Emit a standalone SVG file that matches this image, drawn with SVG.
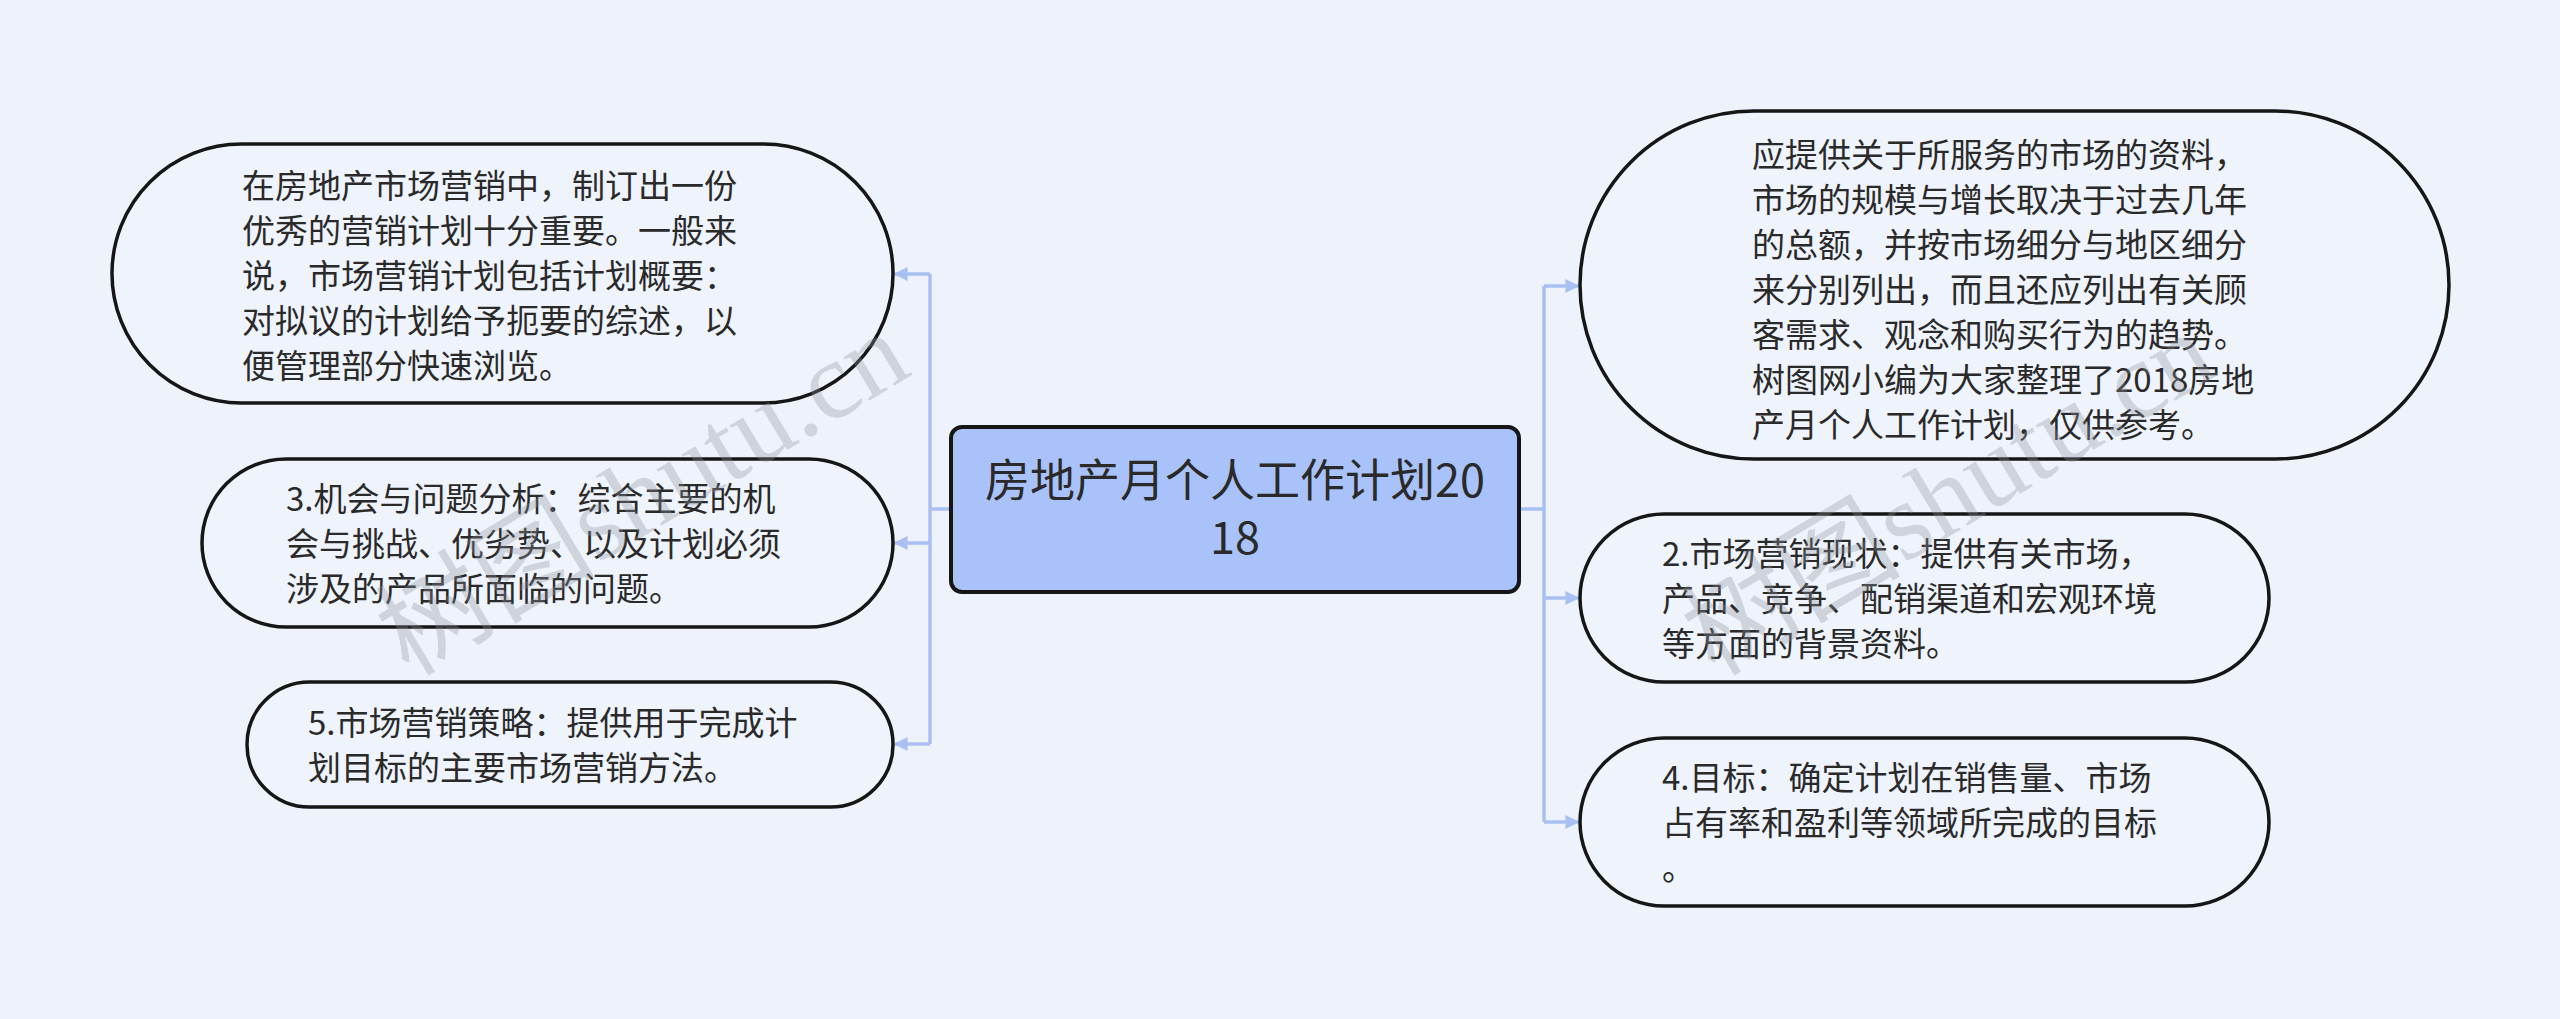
<svg xmlns="http://www.w3.org/2000/svg" width="2560" height="1019" viewBox="0 0 2560 1019">
<defs>
<style>
.bg{fill:#eef3fb}
.node{fill:#eef3fc;stroke:#161616;stroke-width:3.5}
.root{fill:#a9c3fa;stroke:#161616;stroke-width:4}
.t{font-family:"Noto Sans CJK SC","Noto Sans",sans-serif;font-size:33px;fill:#2a2a2a}
.rt{font-family:"Noto Sans CJK SC","Noto Sans",sans-serif;font-size:45px;fill:#2a2a2a;text-anchor:middle}
.edge{fill:none;stroke:#a9c1f2;stroke-width:3.5}
.wm{font-family:"Liberation Serif","Noto Sans CJK SC",serif;font-size:110px;fill:#8c929c;opacity:0.32}
</style>
<marker id="arr" viewBox="0 0 10 10" refX="9" refY="5" markerWidth="4" markerHeight="4" markerUnits="strokeWidth" orient="auto">
<path d="M0,0 L10,5 L0,10 z" fill="#a9c1f2"/>
</marker>
</defs>
<rect class="bg" x="0" y="0" width="2560" height="1019"/>

<g id="connectors">
<path class="edge" d="M951,509 H930"/>
<path class="edge" d="M930,274 V744"/>
<path class="edge" d="M930,274 H895" marker-end="url(#arr)"/>
<path class="edge" d="M930,543 H895" marker-end="url(#arr)"/>
<path class="edge" d="M930,744 H895" marker-end="url(#arr)"/>
<path class="edge" d="M1519,509 H1544"/>
<path class="edge" d="M1544,286 V822"/>
<path class="edge" d="M1544,286 H1578" marker-end="url(#arr)"/>
<path class="edge" d="M1544,598 H1578" marker-end="url(#arr)"/>
<path class="edge" d="M1544,822 H1578" marker-end="url(#arr)"/>
</g>

<g id="root">
<rect class="root" x="951" y="427" width="568" height="165" rx="11"/>
<text class="rt" x="1235" y="497">房地产月个人工作计划20</text>
<text class="rt" x="1235" y="554">18</text>
</g>

<g id="n-left-1">
<rect class="node" x="112" y="144" width="781" height="259" rx="129.5"/>
<text class="t"><tspan x="242" y="197.5">在房地产市场营销中，制订出一份</tspan><tspan x="242" y="242.5">优秀的营销计划十分重要。一般来</tspan><tspan x="242" y="287.5">说，市场营销计划包括计划概要：</tspan><tspan x="242" y="332.5">对拟议的计划给予扼要的综述，以</tspan><tspan x="242" y="377.5">便管理部分快速浏览。</tspan></text>
</g>

<g id="n-left-3">
<rect class="node" x="202" y="459" width="691" height="168" rx="84"/>
<text class="t"><tspan x="286" y="510.5">3.机会与问题分析：综合主要的机</tspan><tspan x="286" y="555.5">会与挑战、优劣势、以及计划必须</tspan><tspan x="286" y="600.5">涉及的产品所面临的问题。</tspan></text>
</g>

<g id="n-left-5">
<rect class="node" x="247" y="682" width="646" height="125" rx="62.5"/>
<text class="t"><tspan x="308" y="734.5">5.市场营销策略：提供用于完成计</tspan><tspan x="308" y="779.5">划目标的主要市场营销方法。</tspan></text>
</g>

<g id="n-right-1">
<rect class="node" x="1580" y="111" width="869" height="348" rx="174"/>
<text class="t"><tspan x="1752" y="166.5">应提供关于所服务的市场的资料，</tspan><tspan x="1752" y="211.5">市场的规模与增长取决于过去几年</tspan><tspan x="1752" y="256.5">的总额，并按市场细分与地区细分</tspan><tspan x="1752" y="301.5">来分别列出，而且还应列出有关顾</tspan><tspan x="1752" y="346.5">客需求、观念和购买行为的趋势。</tspan><tspan x="1752" y="391.5">树图网小编为大家整理了2018房地</tspan><tspan x="1752" y="436.5">产月个人工作计划，仅供参考。</tspan></text>
</g>

<g id="n-right-2">
<rect class="node" x="1580" y="514" width="689" height="168" rx="84"/>
<text class="t"><tspan x="1662" y="565.5">2.市场营销现状：提供有关市场，</tspan><tspan x="1662" y="610.5">产品、竞争、配销渠道和宏观环境</tspan><tspan x="1662" y="655.5">等方面的背景资料。</tspan></text>
</g>

<g id="n-right-4">
<rect class="node" x="1580" y="738" width="689" height="168" rx="84"/>
<text class="t"><tspan x="1662" y="789.5">4.目标：确定计划在销售量、市场</tspan><tspan x="1662" y="834.5">占有率和盈利等领域所完成的目标</tspan><tspan x="1662" y="879.5">。</tspan></text>
</g>

<g id="watermarks">
<text class="wm" x="645" y="530" text-anchor="middle" transform="rotate(-31 645 498)">树图shutu.cn</text>
<text class="wm" x="1951" y="530" text-anchor="middle" transform="rotate(-31 1951 498)">树图shutu.cn</text>
</g>
</svg>
